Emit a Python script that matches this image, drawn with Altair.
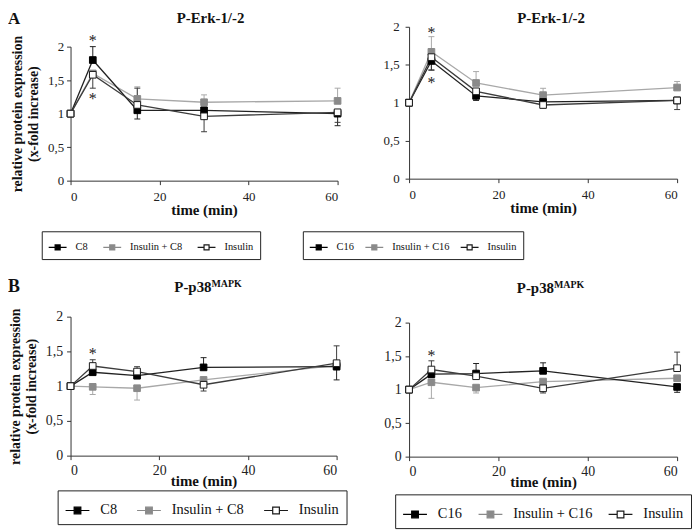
import altair as alt
import pandas as pd

FONT = "Liberation Serif"
TIME = [0, 5, 15, 30, 60]
X_TICKS = [0, 20, 40, 60]
Y_TICKS = [0, 0.5, 1, 1.5, 2]

# ---- Panel A left: P-Erk-1/-2, C8 ----
A1_NAMES = ["C8", "Insulin + C8", "Insulin"]
A1_C8 = [1.00, 1.80, 1.05, 1.05, 1.00]
A1_C8_ERR = [0, 0.20, -0.13, 0, -0.18]
A1_INSC8 = [1.00, 1.60, 1.22, 1.17, 1.19]
A1_INSC8_ERR = [0, 0, 0.18, 0.11, 0.19]
A1_INS = [1.00, 1.58, 1.13, 0.96, 1.02]
A1_INS_ERR = [0, -0.20, 0.25, -0.23, -0.15]
A1_STAR_T = [5, 5]
A1_STAR_V = [2.13, 1.26]

# ---- Panel A right: P-Erk-1/-2, C16 ----
A2_NAMES = ["C16", "Insulin + C16", "Insulin"]
A2_C16 = [1.00, 1.55, 1.09, 1.01, 1.03]
A2_C16_ERR = [0, -0.12, -0.06, 0, 0]
A2_INSC16 = [1.00, 1.67, 1.26, 1.10, 1.20]
A2_INSC16_ERR = [0, 0.20, 0.15, 0.09, 0.08]
A2_INS = [1.00, 1.60, 1.15, 0.97, 1.03]
A2_INS_ERR = [0, -0.17, 0, -0.04, -0.12]
A2_STAR_T = [5, 5]
A2_STAR_V = [1.96, 1.30]

# ---- Panel B left: P-p38 MAPK, C8 ----
B1_NAMES = ["C8", "Insulin + C8", "Insulin"]
B1_C8 = [1.00, 1.20, 1.15, 1.27, 1.28]
B1_C8_ERR = [0, 0, 0, 0.14, -0.19]
B1_INSC8 = [1.00, 0.99, 0.97, 1.09, 1.30]
B1_INSC8_ERR = [0, -0.11, -0.17, 0, 0]
B1_INS = [1.00, 1.29, 1.21, 1.02, 1.33]
B1_INS_ERR = [0, 0.09, 0.07, -0.09, 0.25]
B1_STAR_T = [5]
B1_STAR_V = [1.50]

# ---- Panel B right: P-p38 MAPK, C16 ----
B2_NAMES = ["C16", "Insulin + C16", "Insulin"]
B2_C16 = [1.00, 1.23, 1.24, 1.28, 1.04]
B2_C16_ERR = [0, 0, 0.15, 0.12, -0.08]
B2_INSC16 = [1.00, 1.11, 1.03, 1.12, 1.17]
B2_INSC16_ERR = [0, -0.24, -0.08, 0, 0]
B2_INS = [1.00, 1.30, 1.20, 1.02, 1.32]
B2_INS_ERR = [0, 0.13, 0, -0.07, 0.24]
B2_STAR_T = [5]
B2_STAR_V = [1.55]

# colours in series order (fatty acid, insulin + fatty acid, insulin)
LINE_RANGE = ["#222222", "#a8a8a8", "#3c3c3c"]
FILL_RANGE = ["#000000", "#8a8a8a", "#ffffff"]
STROKE_RANGE = ["#000000", "#8a8a8a", "#1a1a1a"]
Y_TITLE = ["relative protein expression", "(x-fold increase)"]
SYMBOL = "M-1,0H-0.28M0.28,0H1M-0.28,-0.28H0.28V0.28H-0.28Z"
DRAW_ORDER = [1, 0, 2]  # grey first, then black, then white on top


def series_frame(names, means, errs):
    rows = []
    for k in DRAW_ORDER:
        for t, m, e in zip(TIME, means[k], errs[k]):
            rows.append({"time": t, "value": m, "series": names[k],
                         "err": e, "top": m + e})
    return pd.DataFrame(rows)


def panel(names, means, errs, star_t, star_v, st):
    df = series_frame(names, means, errs)
    edf = df[df["err"] != 0]
    sdf = pd.DataFrame({"time": star_t, "value": star_v})

    xaxis = alt.Axis(values=X_TICKS, title="time (min)", grid=False,
                     tickSize=st["xts"], labelPadding=st["xlp"],
                     titlePadding=st["xtp"], labelFont=FONT,
                     labelFontSize=st["lfs"], labelColor="#222222",
                     titleFont=FONT, titleFontSize=st["tfs"],
                     titleFontWeight="bold", titleColor="#111111",
                     domainColor="#333333", tickColor="#333333")
    yargs = dict(values=Y_TICKS, grid=False, tickSize=4,
                 labelPadding=st["ylp"], labelFont=FONT,
                 labelFontSize=st["lfs"], labelColor="#222222",
                 labelExpr="replace(format(datum.value, '~g'), '.', ',')",
                 domainColor="#333333", tickColor="#333333")
    if st["ytitle"]:
        yargs.update(title=Y_TITLE, titleFont=FONT, titleFontSize=14,
                     titleFontWeight="bold", titleColor="#111111",
                     titleLineHeight=16, titlePadding=st["ytp"])
    else:
        yargs.update(title=None)
    yaxis = alt.Axis(**yargs)

    xs = alt.Scale(domain=[0, 60], nice=False)
    ys = alt.Scale(domain=[0, 2], nice=False,
                   range=[st["h"], st.get("top", 0)])
    X = alt.X("time:Q", scale=xs, axis=xaxis)

    # line scale uses the drawing order as domain so that it is not merged
    # with the fill/stroke legend
    line_scale = alt.Scale(domain=[names[k] for k in DRAW_ORDER],
                           range=[LINE_RANGE[k] for k in DRAW_ORDER])
    fill_scale = alt.Scale(domain=names, range=FILL_RANGE)
    stroke_scale = alt.Scale(domain=names, range=STROKE_RANGE)

    leg = alt.Legend(orient="none", legendX=st["lx"], legendY=st["ly"],
                     direction="horizontal", columns=3, title=None,
                     strokeColor="#222222", fillColor="white",
                     padding=st["lpad"], symbolType=SYMBOL,
                     symbolSize=st["lsym"], symbolStrokeWidth=1.2,
                     symbolOpacity=1, labelFont=FONT,
                     labelFontSize=st["llfs"], labelColor="#111111",
                     labelOffset=st["loff"], columnPadding=st["lcp"])

    lines = alt.Chart(df).mark_line(strokeWidth=1.3).encode(
        x=X, y=alt.Y("value:Q", scale=ys, axis=yaxis),
        color=alt.Color("series:N", scale=line_scale, legend=None))
    rules = alt.Chart(edf).mark_rule(strokeWidth=1).encode(
        x=X, y=alt.Y("value:Q", scale=ys, axis=yaxis), y2="top:Q",
        color=alt.Color("series:N", scale=line_scale, legend=None))
    caps = alt.Chart(edf).mark_tick(orient="horizontal", size=6,
                                    thickness=1, opacity=1).encode(
        x=X, y=alt.Y("top:Q", scale=ys, axis=yaxis),
        color=alt.Color("series:N", scale=line_scale, legend=None))
    points = alt.Chart(df).mark_point(shape="square", filled=True,
                                      size=st["msize"], strokeWidth=1,
                                      opacity=1).encode(
        x=X, y=alt.Y("value:Q", scale=ys, axis=yaxis),
        fill=alt.Fill("series:N", scale=fill_scale, legend=leg),
        stroke=alt.Stroke("series:N", scale=stroke_scale, legend=leg))
    stars = alt.Chart(sdf).mark_text(text="*", font=FONT, fontSize=16,
                                     baseline="alphabetic", dy=8,
                                     color="#222222").encode(
        x=X, y=alt.Y("value:Q", scale=ys, axis=yaxis))

    layers = [lines, rules, caps, points, stars]

    tdf = pd.DataFrame({"label": [st["title"]]})
    layers.append(alt.Chart(tdf).mark_text(
        font=FONT, fontSize=15, fontWeight="bold", color="#111111",
        align=st["talign"], baseline="alphabetic").encode(
        text="label:N", x=alt.value(st["tx"]), y=alt.value(st["ty"])))
    if st.get("sup"):
        sup = pd.DataFrame({"label": [st["sup"]]})
        layers.append(alt.Chart(sup).mark_text(
            font=FONT, fontSize=10, fontWeight="bold", color="#111111",
            align="left", baseline="alphabetic").encode(
            text="label:N", x=alt.value(st["tx"]), y=alt.value(st["ty"] - 5)))
    if st.get("letter"):
        let = pd.DataFrame({"label": [st["letter"]]})
        layers.append(alt.Chart(let).mark_text(
            font=FONT, fontSize=st["letfs"], fontWeight="bold", color="#111111",
            align="left", baseline="alphabetic").encode(
            text="label:N", x=alt.value(st["letx"]), y=alt.value(st["lety"])))

    return alt.layer(*layers).properties(width=st["w"], height=st["h"])


A1 = panel(A1_NAMES, [A1_C8, A1_INSC8, A1_INS],
           [A1_C8_ERR, A1_INSC8_ERR, A1_INS_ERR], A1_STAR_T, A1_STAR_V,
           dict(w=269, h=155, top=20, lfs=13, tfs=15, xts=4, xlp=6, xtp=-1,
                ylp=3, ytitle=True, ytp=7, lx=-29, ly=206, lpad=6, lsym=324,
                llfs=10.5, loff=8, lcp=12, msize=45,
                title="P-Erk-1/-2", talign="center", tx=141, ty=-4,
                letter="A", letfs=17, letx=-63, lety=-3))
A2 = panel(A2_NAMES, [A2_C16, A2_INSC16, A2_INS],
           [A2_C16_ERR, A2_INSC16_ERR, A2_INS_ERR], A2_STAR_T, A2_STAR_V,
           dict(w=270, h=153, lfs=13, tfs=15, xts=4, xlp=6, xtp=-1, ylp=6,
                ytitle=False, lx=-107, ly=206, lpad=6, lsym=324,
                llfs=10.5, loff=8, lcp=8, msize=45,
                title="P-Erk-1/-2", talign="center", tx=143, ty=-4))
B1 = panel(B1_NAMES, [B1_C8, B1_INSC8, B1_INS],
           [B1_C8_ERR, B1_INSC8_ERR, B1_INS_ERR], B1_STAR_T, B1_STAR_V,
           dict(w=268, h=140, lfs=14, tfs=15, xts=4, xlp=4, xtp=-4, ylp=4,
                ytitle=True, ytp=7, lx=-13, ly=175, lpad=7, lsym=576,
                llfs=14.5, loff=10, lcp=17, msize=45,
                title="P-p38", sup="MAPK", talign="right", tx=142, ty=-25,
                letter="B", letfs=18, letx=-63, lety=-25))
B2 = panel(B2_NAMES, [B2_C16, B2_INSC16, B2_INS],
           [B2_C16_ERR, B2_INSC16_ERR, B2_INS_ERR], B2_STAR_T, B2_STAR_V,
           dict(w=270, h=135, lfs=14, tfs=15, xts=4, xlp=4, xtp=-4, ylp=4,
                ytitle=False, lx=-14, ly=173, lpad=7, lsym=576,
                llfs=14.5, loff=10, lcp=13, msize=45,
                title="P-p38", sup="MAPK", talign="right", tx=146, ty=-30))

ind = dict(color="independent", fill="independent", stroke="independent",
           x="independent", y="independent")
indl = dict(fill="independent", stroke="independent", color="independent")

col1 = alt.vconcat(A1, B1, spacing=18).resolve_scale(**ind).resolve_legend(**indl)
col2 = alt.vconcat(A2, B2, spacing=20).resolve_scale(**ind).resolve_legend(**indl)

chart = alt.concat(col1, col2, columns=2, align="none", spacing=-46).resolve_scale(
    **ind).resolve_legend(**indl).properties(
    padding=0, background="white").configure_view(stroke=None)

chart.save("out.html", embed_options={"renderer": "svg", "actions": False})
